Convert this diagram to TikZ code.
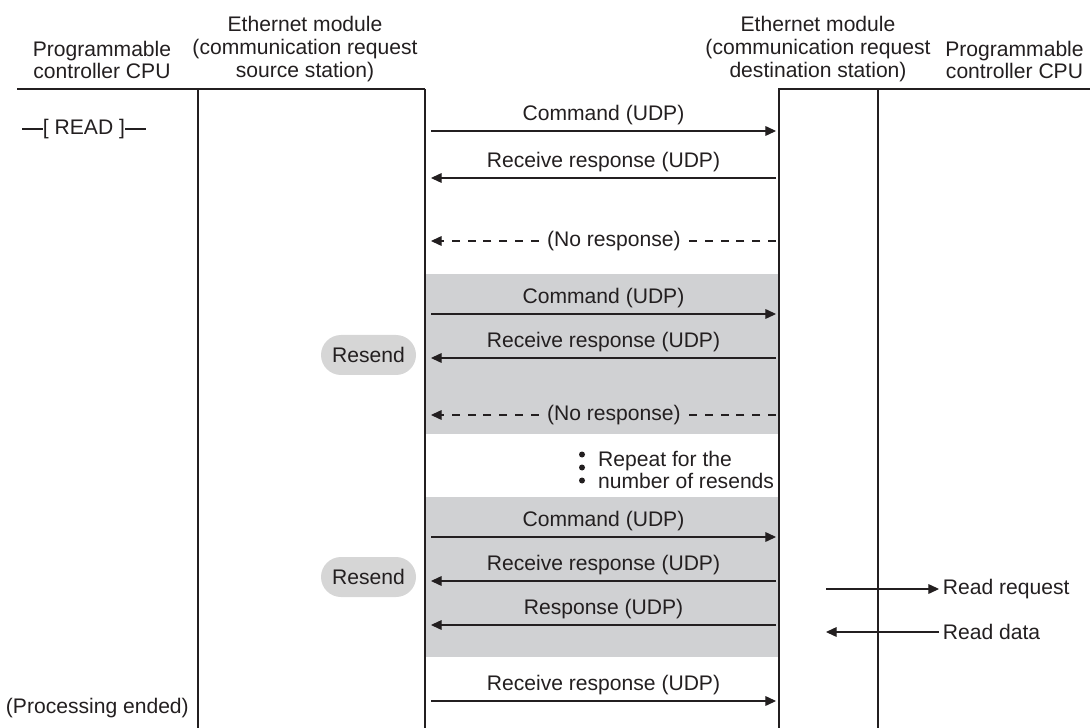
\documentclass[tikz,border=0pt]{standalone}
\usepackage{fontspec}
\setmainfont{Liberation Sans}
\usetikzlibrary{arrows.meta, positioning}
\definecolor{inkgray}{RGB}{35,31,32}
\definecolor{boxgray}{RGB}{208,209,211}
\definecolor{pillgray}{RGB}{214,214,214}

\begin{document}
\begin{tikzpicture}[every node/.style={font=\fontsize{12}{13}\selectfont, text=inkgray}]
    \tikzstyle{frame} = [draw=inkgray, line width=1.1pt]
    \tikzstyle{msg} = [draw=inkgray, line width=0.6pt, -{Triangle[length=6pt, width=5.5pt]}]
    \tikzstyle{lost} = [msg, dash pattern=on 4.5pt off 4.5pt]
    \tikzstyle{lbl} = [above, inner sep=3pt]
    \tikzstyle{head} = [align=center]
    \tikzstyle{resend} = [fill=pillgray, rounded corners=0.4cm, minimum width=1.9cm, minimum height=0.8cm]

    \useasboundingbox (0,0) rectangle (21.8,-14.56);

    % resend blocks
    \fill[boxgray] (8.52,-5.48) rectangle (15.56,-8.68);
    \fill[boxgray] (8.52,-9.94) rectangle (15.56,-13.14);

    % headers
    \node[head] (cpuL) at (2.04,-1.2) {Programmable\\controller CPU};
    \node[head] (ethL) at (6.1,-0.98) {Ethernet module\\(communication request\\source station)};
    \node[head] (ethR) at (16.36,-0.98) {Ethernet module\\(communication request\\destination station)};
    \node[head] (cpuR) at (20.29,-1.2) {Programmable\\controller CPU};

    % stations
    \draw[frame] (0.34,-1.78) -- (8.5,-1.78);
    \draw[frame] (3.96,-1.78) -- (3.96,-14.56);
    \draw[frame] (8.5,-1.78) -- (8.5,-14.56);
    \draw[frame] (15.58,-14.56) -- (15.58,-1.78) -- (21.8,-1.78);
    \draw[frame] (17.56,-1.78) -- (17.56,-14.56);

    % READ instruction
    \node[inner sep=0pt] (ladder) at (1.68,-2.58) {[ READ ]};
    \draw[inkgray, line width=0.6pt] (ladder.west) -- ++(-0.42,0);
    \draw[inkgray, line width=0.6pt] (ladder.east) -- ++(0.42,0);
    \node[anchor=east] (ended) at (3.9,-14.16) {(Processing ended)};

    % first try
    \coordinate (s1) at (8.62,-2.62);  \coordinate (d1) at (15.52,-2.62);
    \coordinate (s2) at (8.62,-3.56);  \coordinate (d2) at (15.52,-3.56);
    \coordinate (s3) at (8.62,-4.82);  \coordinate (d3) at (15.52,-4.82);
    \draw[msg] (s1) -- node[lbl] {Command (UDP)} (d1);
    \draw[msg] (d2) -- node[lbl] {Receive response (UDP)} (s2);
    \draw[lost] (d3) -- node[pos=0.47, fill=white, inner sep=0.3pt] (nr1) {(No response)} (s3);

    % resend
    \coordinate (s4) at (8.62,-6.28);  \coordinate (d4) at (15.52,-6.28);
    \coordinate (s5) at (8.62,-7.16);  \coordinate (d5) at (15.52,-7.16);
    \coordinate (s6) at (8.62,-8.30);  \coordinate (d6) at (15.52,-8.30);
    \node[resend] (resendA) at (7.37,-7.10) {Resend};
    \draw[msg] (s4) -- node[lbl] {Command (UDP)} (d4);
    \draw[msg] (d5) -- node[lbl] {Receive response (UDP)} (s5);
    \draw[lost] (d6) -- node[pos=0.47, fill=boxgray, inner sep=0.3pt] (nr2) {(No response)} (s6);

    % repeat
    \fill[inkgray] (11.64,-9.09) circle (0.06);
    \fill[inkgray] (11.64,-9.35) circle (0.06);
    \fill[inkgray] (11.64,-9.61) circle (0.06);
    \node[anchor=west, align=left] (repeat) at (11.84,-9.40) {Repeat for the\\number of resends};

    % last resend
    \coordinate (s7) at (8.62,-10.74);  \coordinate (d7) at (15.52,-10.74);
    \coordinate (s8) at (8.62,-11.62);  \coordinate (d8) at (15.52,-11.62);
    \coordinate (s9) at (8.62,-12.50);  \coordinate (d9) at (15.52,-12.50);
    \coordinate (s10) at (8.62,-14.02); \coordinate (d10) at (15.52,-14.02);
    \node[resend] (resendB) at (7.37,-11.54) {Resend};
    \draw[msg] (s7) -- node[lbl] {Command (UDP)} (d7);
    \draw[msg] (d8) -- node[lbl] {Receive response (UDP)} (s8);
    \draw[msg] (d9) -- node[lbl] {Response (UDP)} (s9);
    \draw[msg] (s10) -- node[lbl] {Receive response (UDP)} (d10);

    % read at destination CPU
    \coordinate (rq) at (16.52,-11.78);
    \coordinate (rd) at (16.52,-12.64);
    \node[anchor=west, inner sep=2pt] (rreq) at (18.78,-11.78) {Read request};
    \node[anchor=west, inner sep=2pt] (rdat) at (18.78,-12.64) {Read data};
    \draw[msg] (rq) -- (rreq);
    \draw[msg] (rdat) -- (rd);
\end{tikzpicture}
\end{document}
